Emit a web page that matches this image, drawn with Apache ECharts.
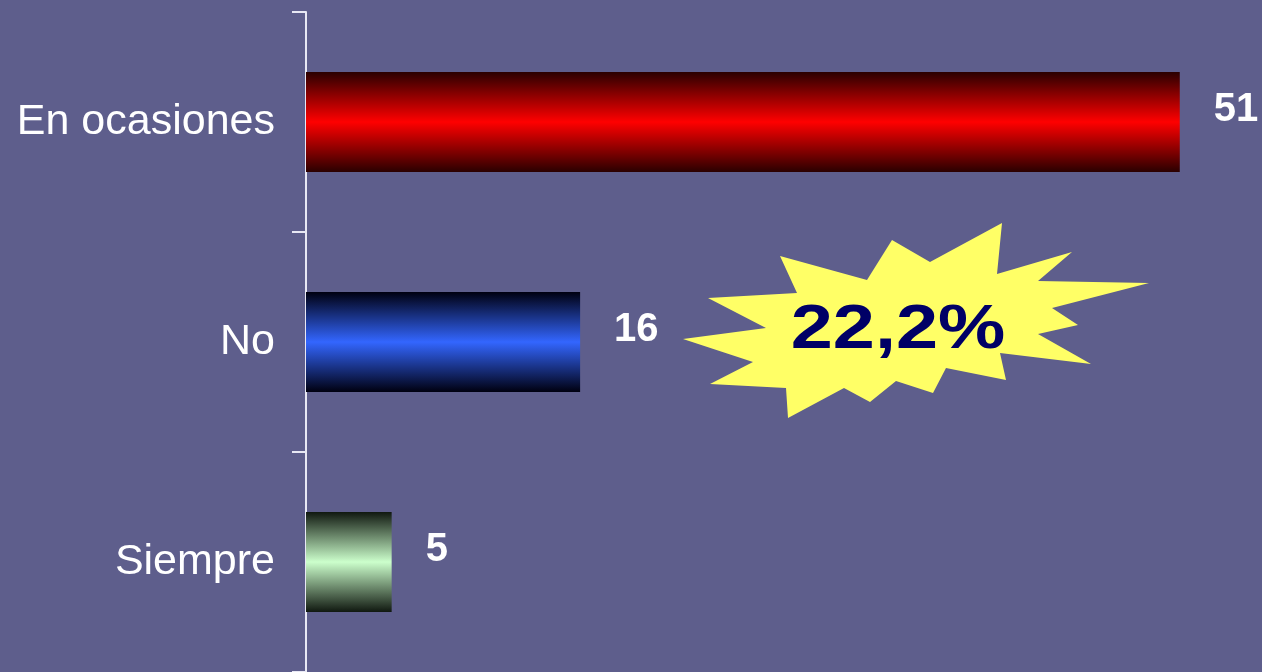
<!DOCTYPE html>
<html>
<head>
<meta charset="utf-8">
<script src="https://cdn.jsdelivr.net/npm/echarts@6/dist/echarts.min.js"></script>
<style>
  html, body { margin: 0; padding: 0; background: #5e5e8c; }
  #chart { width: 1262px; height: 672px; }
</style>
</head>
<body>
<div id="chart"></div>
<script>
// datos
var categorias = ['En ocasiones', 'No', 'Siempre'];
var valores = [51, 16, 5];
var porcentaje = '22,2%';

// degradados de cada barra (oscuro - claro - oscuro)
var colores = [
  ['#2a0000', '#ff0000'],
  ['#000010', '#3366ff'],
  ['#101810', '#ccffcc']
];

var barChart = function (targetElem) {
  var myChart = echarts.init(targetElem);

  var datos = valores.map(function (v, i) {
    return {
      value: v,
      itemStyle: {
        color: new echarts.graphic.LinearGradient(0, 0, 0, 1, [
          { offset: 0, color: colores[i][0] },
          { offset: 0.5, color: colores[i][1] },
          { offset: 1, color: colores[i][0] }
        ])
      }
    };
  });

  // estrella amarilla
  var estrella = [
    [780, 256], [867, 280], [892, 240], [930, 262], [1002, 223], [997, 274],
    [1072, 252], [1038, 281], [1149, 283], [1052, 308], [1078, 325], [1038, 334],
    [1091, 364], [1000, 353], [1006, 380], [946, 368], [933, 393], [896, 381],
    [870, 402], [844, 388], [788, 418], [786, 388], [710, 384], [753, 362],
    [683, 339], [766, 328], [708, 298], [797, 293]
  ];

  var option = {
    backgroundColor: '#5e5e8c',
    animation: false,
    grid: { left: 306, top: 12, bottom: 0, right: 0 },
    xAxis: {
      type: 'value',
      min: 0,
      max: 55.8,
      show: false
    },
    yAxis: {
      type: 'category',
      data: categorias,
      inverse: true,
      axisLine: { show: true, lineStyle: { color: '#e8e8f4', width: 2 } },
      axisTick: { show: true, length: 14, lineStyle: { color: '#e8e8f4', width: 2 } },
      axisLabel: {
        color: '#ffffff',
        fontSize: 43,
        fontFamily: 'Liberation Sans, Arial, sans-serif',
        margin: 31
      }
    },
    series: [{
      type: 'bar',
      data: datos,
      barWidth: 100,
      label: {
        show: true,
        position: 'right',
        distance: 34,
        offset: [0, -12],
        color: '#ffffff',
        fontSize: 40,
        fontWeight: 'bold',
        fontFamily: 'Liberation Sans, Arial, sans-serif'
      }
    }],
    graphic: [
      {
        type: 'polygon',
        shape: { points: estrella },
        style: { fill: '#ffff66' }
      },
      {
        type: 'text',
        x: 898,
        y: 331,
        scaleX: 1.2,
        style: {
          text: porcentaje,
          fill: '#000066',
          font: 'bold 63px "Liberation Sans", Arial, sans-serif',
          textAlign: 'center',
          textVerticalAlign: 'middle'
        }
      }
    ]
  };

  myChart.setOption(option);
};

barChart(document.getElementById('chart'));
</script>
</body>
</html>
